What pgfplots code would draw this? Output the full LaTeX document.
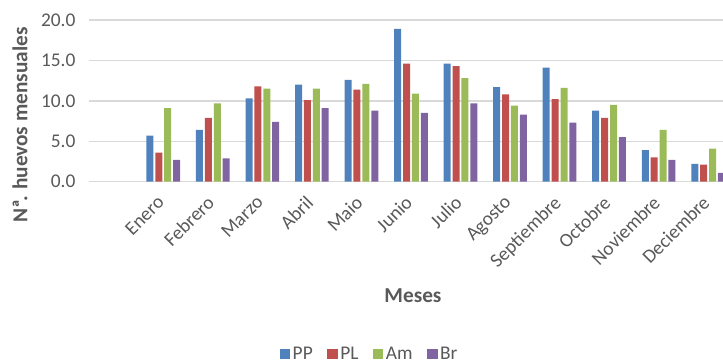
\documentclass[border=0pt]{standalone}
\usepackage{pgfplots}
\pgfplotsset{compat=1.18}
\usepackage{fontspec}
\setmainfont{Carlito}
\definecolor{cPP}{HTML}{4F81BD}
\definecolor{cPL}{HTML}{C0504D}
\definecolor{cAm}{HTML}{9BBB59}
\definecolor{cBr}{HTML}{8064A2}
\definecolor{txt}{HTML}{595959}
\definecolor{grd}{HTML}{D9D9D9}
\begin{document}
\begin{tikzpicture}
\useasboundingbox (0,0) rectangle (723pt,360pt);
\begin{axis}[
  at={(89pt,178.3pt)}, anchor=south west,
  scale only axis, width=634pt, height=161.7pt,
  xmin=-1.5, xmax=11.3, ymin=0, ymax=20,
  ybar=1.9pt, bar width=7pt,
  xtick={0,...,11},
  xticklabels={Enero,Febrero,Marzo,Abril,Maio,Junio,Julio,Agosto,Septiembre,Octobre,Noviembre,Deciembre},
  ytick={0,5,10,15,20},
  /pgf/number format/.cd, fixed, fixed zerofill, precision=1, assume math mode=true, /pgfplots/.cd,
  major tick length=0pt,
  ymajorgrids, grid style={grd, line width=1.3pt},
  axis x line*=bottom, axis y line*=left,
  x axis line style={grd, line width=1.3pt, -},
  y axis line style={draw=none},
  tick label style={font=\fontsize{19.4}{21}\selectfont, text=txt},
  yticklabel style={xshift=-10pt},
  xticklabel style={xshift=-7pt, yshift=-8pt, rotate=45, anchor=north east},
  xlabel={Meses}, ylabel={N\kern0.5ptª\kern-2.5pt. huevos mensuales},
  label style={font=\bfseries\fontsize{21.3}{23}\selectfont, text=txt},
  xlabel style={at={(axis description cs:0.511,-0.707)}, anchor=center},
  ylabel style={at={(axis description cs:-0.109,0.35)}, anchor=center, rotate=0},
  legend columns=-1,
  legend style={at={(axis description cs:0.443,-1.066)}, anchor=center, draw=none, fill=none,
    font=\fontsize{19.4}{21}\selectfont, text=txt,
    nodes={inner xsep=2.5pt},
    /tikz/every even column/.append style={column sep=12pt}},
  legend image code/.code={\fill[#1,draw=none] (0pt,-5pt) rectangle (10.5pt,5pt);},
]
\addplot[fill=cPP, draw=none] coordinates {(0,5.7) (1,6.4) (2,10.3) (3,12.0) (4,12.6) (5,18.9) (6,14.6) (7,11.7) (8,14.1) (9,8.8) (10,3.9) (11,2.2)};
\addplot[fill=cPL, draw=none] coordinates {(0,3.6) (1,7.9) (2,11.8) (3,10.1) (4,11.4) (5,14.6) (6,14.3) (7,10.8) (8,10.2) (9,7.9) (10,3.0) (11,2.1)};
\addplot[fill=cAm, draw=none] coordinates {(0,9.1) (1,9.7) (2,11.5) (3,11.5) (4,12.1) (5,10.9) (6,12.8) (7,9.4) (8,11.6) (9,9.5) (10,6.4) (11,4.1)};
\addplot[fill=cBr, draw=none] coordinates {(0,2.7) (1,2.9) (2,7.4) (3,9.1) (4,8.8) (5,8.5) (6,9.7) (7,8.3) (8,7.3) (9,5.5) (10,2.7) (11,1.1)};
\legend{PP,PL,Am,Br}
\end{axis}
\end{tikzpicture}
\end{document}
